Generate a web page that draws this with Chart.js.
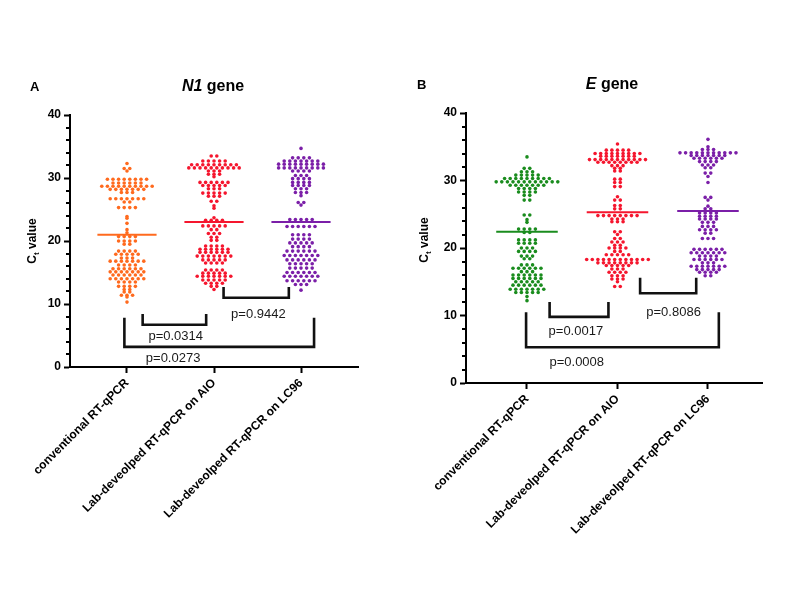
<!DOCTYPE html>
<html><head><meta charset="utf-8">
<script src="https://cdn.jsdelivr.net/npm/chart.js@4.4.0/dist/chart.umd.min.js"></script>
<style>
html,body{margin:0;padding:0;background:#fff;}
#wrap{position:relative;width:800px;height:600px;overflow:hidden;}
canvas{position:absolute;top:0;}
</style></head><body>
<div id="wrap">
<canvas id="cA" width="400" height="600" style="left:0"></canvas>
<canvas id="cB" width="400" height="600" style="left:400px"></canvas>
</div>
<script>
// ---------------- DATA ----------------
const categories = ['conventional RT-qPCR', 'Lab-deveolped RT-qPCR on AIO', 'Lab-deveolped RT-qPCR on LC96'];
const yTickValues = [0, 10, 20, 30, 40];

// Panel A: N1 gene Ct values
const n1Conventional = [32.3,31.5,31.5,31.1,
 29.8,29.8,29.8,29.8,29.8,29.8,29.8,29.8,
 29.2,29.2,29.2,29.2,29.2,29.2,
 28.7,28.7,28.7,28.7,28.7,28.7,28.7,28.7,28.7,28.7,
 28.2,28.2,28.2,28.2,28.2,28.2,28.2,
 27.7,27.7,27.7,
 26.7,26.7,26.7,26.7,26.7,26.7,26.7,
 26.2,26.2,
 25.3,25.3,25.3,25.3,
 23.9,23.6,22.8,21.8,21.3,
 20.7,20.7,20.7,20.7,
 20.0,20.0,20.0,20.0,
 19.5,19.5,
 18.4,18.4,18.4,18.4,
 17.9,17.9,17.9,17.9,17.9,
 17.3,17.3,17.3,
 16.8,16.8,16.8,16.8,16.8,16.8,16.8,
 16.2,16.2,16.2,16.2,
 15.6,15.6,15.6,15.6,15.6,15.6,
 15.1,15.1,15.1,15.1,15.1,15.1,15.1,
 14.6,14.6,14.6,14.6,14.6,14.6,
 14.0,14.0,14.0,14.0,14.0,14.0,14.0,
 13.5,13.5,13.5,13.5,
 12.8,12.8,12.8,12.8,
 12.3,12.3,11.9,11.9,
 11.4,11.4,11.4,11.1,10.3];
const n1AIO = [33.5,33.5,
 32.7,32.7,32.7,32.7,32.7,
 32.1,32.1,32.1,32.1,32.1,32.1,32.1,32.1,32.1,
 31.6,31.6,31.6,31.6,31.6,31.6,31.6,31.6,31.6,31.6,
 31.1,31.1,31.1,
 30.6,30.6,30.6,
 30.2,
 29.3,29.3,29.3,29.3,29.3,29.3,
 28.8,28.8,28.8,28.8,28.8,
 28.3,28.3,28.3,
 27.6,27.6,27.6,27.6,27.6,
 27.1,27.1,27.1,
 26.3,26.3,25.6,25.2,23.7,
 23.3,23.3,23.3,23.3,
 22.4,22.4,22.4,22.4,22.4,
 21.8,21.8,
 21.2,21.2,21.2,
 20.6,20.6,20.1,20.1,
 19.2,19.2,19.2,19.2,
 18.7,18.7,18.7,18.7,18.7,18.7,
 18.2,18.2,18.2,18.2,18.2,18.2,
 17.6,17.6,17.6,17.6,17.6,17.6,17.6,
 17.0,17.0,17.0,17.0,17.0,
 16.5,16.5,16.5,16.5,
 15.4,15.4,15.4,15.4,
 14.9,14.9,14.9,14.9,14.9,
 14.4,14.4,14.4,14.4,14.4,14.4,14.4,
 13.8,13.8,13.8,13.8,13.8,
 13.3,13.3,13.3,13.3,
 12.8,12.8,12.3];
const n1LC96 = [34.7,
 33.2,33.2,33.2,33.2,
 32.7,32.7,32.7,32.7,32.7,32.7,32.7,
 32.2,32.2,32.2,32.2,32.2,32.2,32.2,32.2,32.2,
 31.6,31.6,31.6,31.6,31.6,31.6,31.6,31.6,31.6,
 31.1,31.1,31.1,31.1,
 30.4,30.4,30.4,
 29.9,29.9,29.9,29.9,
 29.3,29.3,29.3,29.3,
 28.8,28.8,28.8,28.8,
 28.3,28.3,28.3,
 27.7,27.7,27.7,
 27.2,26.1,26.1,25.7,
 23.4,23.4,23.4,23.4,23.4,
 22.3,22.3,22.3,22.3,22.3,22.3,
 21.0,21.0,21.0,21.0,
 20.3,20.3,20.3,20.3,
 19.7,19.7,19.7,19.7,19.7,
 19.1,19.1,19.1,19.1,
 18.4,18.4,18.4,18.4,18.4,18.4,
 17.7,17.7,17.7,17.7,17.7,17.7,17.7,
 17.0,17.0,17.0,17.0,17.0,17.0,
 16.4,16.4,16.4,16.4,16.4,
 15.7,15.7,15.7,15.7,15.7,
 15.0,15.0,15.0,15.0,15.0,15.0,
 14.4,14.4,14.4,14.4,14.4,14.4,14.4,
 13.7,13.7,13.7,13.7,13.7,13.7,
 13.1,13.1,13.1,12.2];

// Panel B: E gene Ct values
const eConventional = [33.5,
 31.8,31.8,
 31.3,31.3,31.3,
 30.8,30.8,30.8,30.8,30.8,
 30.3,30.3,30.3,30.3,30.3,30.3,30.3,30.3,30.3,
 29.8,29.8,29.8,29.8,29.8,29.8,29.8,29.8,29.8,29.8,29.8,29.8,
 29.3,29.3,29.3,29.3,29.3,29.3,29.3,
 28.8,28.8,28.8,28.8,
 28.3,28.3,28.3,28.3,
 27.8,27.8,27.1,27.1,
 24.9,24.9,24.2,23.8,
 22.8,22.8,22.8,22.8,
 22.3,22.3,
 21.2,21.2,21.2,21.2,
 20.7,20.7,20.7,20.7,
 20.0,20.0,20.0,
 19.5,19.5,19.5,19.5,
 18.8,18.8,18.8,
 18.4,18.4,
 17.5,17.5,17.5,
 17.0,17.0,17.0,17.0,17.0,17.0,
 16.5,16.5,16.5,
 16.0,16.0,16.0,16.0,16.0,16.0,
 15.5,15.5,15.5,15.5,15.5,15.5,
 15.0,15.0,15.0,15.0,15.0,
 14.5,14.5,14.5,14.5,14.5,14.5,
 13.9,13.9,13.9,13.9,13.9,13.9,13.9,
 13.4,13.4,13.4,13.4,13.4,
 12.8,12.2];
const eAIO = [35.4,
 34.5,34.5,34.5,34.5,34.5,
 34.0,34.0,34.0,34.0,34.0,34.0,34.0,34.0,34.0,
 33.6,33.6,33.6,33.6,33.6,33.6,33.6,
 33.1,33.1,33.1,33.1,33.1,33.1,33.1,33.1,33.1,33.1,33.1,
 32.7,32.7,32.7,32.7,32.7,32.7,32.7,32.7,
 32.2,32.2,32.2,
 31.8,31.8,31.4,31.4,
 30.2,30.2,29.7,29.7,29.1,29.1,
 27.6,27.1,27.1,26.3,26.3,25.8,25.8,
 24.8,24.8,24.8,24.8,24.8,24.8,24.8,24.8,
 24.3,24.3,24.3,
 23.9,23.9,23.9,
 22.4,22.4,22.0,
 21.4,21.4,
 20.9,20.9,20.9,
 20.4,20.4,
 20.0,20.0,20.0,20.0,
 19.5,19.5,
 19.0,19.0,19.0,19.0,19.0,
 18.3,18.3,18.3,18.3,18.3,18.3,18.3,18.3,18.3,18.3,18.3,18.3,
 17.8,17.8,17.8,17.8,17.8,17.8,17.8,17.8,
 17.4,17.4,17.4,17.4,17.4,
 16.9,16.9,16.9,
 16.4,16.4,16.4,16.4,
 15.9,15.9,15.9,
 15.4,15.4,15.4,
 15.0,14.3,14.3];
const eLC96 = [36.1,35.0,
 34.6,34.6,34.6,
 34.1,34.1,34.1,34.1,34.1,34.1,34.1,34.1,34.1,34.1,34.1,
 33.7,33.7,33.7,33.7,33.7,33.7,33.7,
 33.3,33.3,33.3,33.3,33.3,33.3,
 32.8,32.8,32.8,32.8,
 32.3,32.3,32.3,
 31.9,31.9,31.1,31.1,30.6,29.7,
 27.5,27.5,27.1,26.2,
 25.8,25.8,
 25.2,25.2,25.2,25.2,
 24.7,24.7,24.7,24.7,
 24.3,24.3,24.3,24.3,
 23.8,23.8,23.8,
 23.2,23.2,23.2,
 22.7,22.7,22.7,22.7,
 22.2,22.2,
 21.4,21.4,21.4,
 19.8,19.8,19.8,19.8,19.8,19.8,
 19.3,19.3,19.3,19.3,19.3,19.3,19.3,
 18.8,18.8,18.8,18.8,
 18.3,18.3,18.3,18.3,18.3,18.3,
 17.8,17.8,17.8,
 17.3,17.3,17.3,17.3,17.3,17.3,17.3,
 16.8,16.8,16.8,16.8,16.8,
 16.4,16.4,16.4,16.4,
 15.9,15.9];

const n1Means = [21.0, 23.0, 23.0];
const eMeans = [22.4, 25.3, 25.5];

// Significance brackets: [leftX, rightX, legTop, barY] in data units, with p-value labels
const n1Brackets = [[0.18, 0.91, 8.4, 6.7], [1.11, 1.86, 12.7, 11.0], [-0.03, 2.15, 7.8, 3.2]];
const n1PLabels = ['p=0.0314', 'p=0.9442', 'p=0.0273'];
const n1PLabelPos = [[0.56, 4.8], [1.51, 8.4], [0.53, 1.3]];
const eBrackets = [[0.25, 0.90, 12.0, 9.8], [1.25, 1.87, 15.6, 13.3], [-0.01, 2.12, 10.5, 5.3]];
const ePLabels = ['p=0.0017', 'p=0.8086', 'p=0.0008'];
const ePLabelPos = [[0.54, 7.6], [1.62, 10.4], [0.55, 3.0]];

// ---------------- RENDER ----------------
Chart.defaults.font.family = '"Liberation Sans", Arial, Helvetica, sans-serif';
Chart.defaults.color = '#000';

function swarm(chart) {
  const xs = chart.scales.x, ys = chart.scales.y, d = 5.6;
  chart.data.datasets.forEach(ds => {
    if (!ds.swarmValues) return;
    const cpx = xs.getPixelForValue(ds.swarmCat);
    const vals = ds.swarmValues.slice().sort((a, b) => b - a);
    const rows = [];
    vals.forEach(v => {
      const py = ys.getPixelForValue(v);
      const last = rows[rows.length - 1];
      if (last && Math.abs(py - last.py) < 1.6) last.vals.push(v); else rows.push({ py, vals: [v] });
    });
    const pts = [];
    rows.forEach(r => {
      const n = r.vals.length;
      r.vals.forEach((v, i) => { const off = (i - (n - 1) / 2) * d; pts.push({ x: xs.getValueForPixel(cpx + off), y: v }); });
    });
    ds.data = pts;
  });
  chart.update('none');
}

function makePanel(id, p) {
  const datasets = [];
  p.groups.forEach((vals, i) => {
    datasets.push({ swarmValues: vals, swarmCat: i, data: vals.map(v => ({ x: i, y: v })),
      pointRadius: 1.8, pointBackgroundColor: p.colors[i], pointBorderWidth: 0, showLine: false });
  });
  p.means.forEach((m, i) => {
    datasets.push({ data: [{ x: i - 0.34, y: m }, { x: i + 0.34, y: m }], showLine: true,
      borderColor: p.colors[i], borderWidth: 2, pointRadius: 0 });
  });
  p.brackets.forEach(b => {
    datasets.push({ data: [{ x: b[0], y: b[2] }, { x: b[0], y: b[3] }, { x: b[1], y: b[3] }, { x: b[1], y: b[2] }],
      showLine: true, borderColor: '#111', borderWidth: 2.6, pointRadius: 0, tension: 0, borderJoinStyle: 'miter' });
  });

  const deco = {
    id: 'deco',
    afterDraw(chart) {
      const ctx = chart.ctx, xs = chart.scales.x, ys = chart.scales.y, ca = chart.chartArea;
      ctx.save();
      // minor ticks
      ctx.strokeStyle = '#000'; ctx.lineWidth = 2;
      for (let v = 0; v <= 40; v += 2) {
        if (v % 10 === 0) continue;
        const py = Math.round(ys.getPixelForValue(v));
        ctx.beginPath(); ctx.moveTo(ca.left - 4, py); ctx.lineTo(ca.left, py); ctx.stroke();
      }
      // p-value labels
      ctx.fillStyle = '#1a1a1a'; ctx.font = '13px "Liberation Sans", Arial, sans-serif';
      ctx.textAlign = 'center'; ctx.textBaseline = 'middle';
      p.pLabels.forEach((t, i) => ctx.fillText(t, xs.getPixelForValue(p.pPos[i][0]), ys.getPixelForValue(p.pPos[i][1])));
      // panel letter
      ctx.fillStyle = '#000'; ctx.textAlign = 'left'; ctx.textBaseline = 'alphabetic';
      ctx.font = 'bold 13px "Liberation Sans", Arial, sans-serif';
      ctx.fillText(p.letter, p.letterX, p.titleY);
      // title with italic gene name
      const f1 = 'italic bold 16px "Liberation Sans", Arial, sans-serif';
      const f2 = 'bold 16px "Liberation Sans", Arial, sans-serif';
      ctx.font = f1; const w1 = ctx.measureText(p.gene).width;
      ctx.font = f2; const w2 = ctx.measureText(' gene').width;
      let x0 = p.titleCX - (w1 + w2) / 2;
      ctx.font = f1; ctx.fillText(p.gene, x0, p.titleY);
      ctx.font = f2; ctx.fillText(' gene', x0 + w1, p.titleY);
      // y axis title: C_t value
      ctx.translate(p.yTitleX, p.yTitleY); ctx.rotate(-Math.PI / 2);
      const fa = 'bold 12px "Liberation Sans", Arial, sans-serif', fb = 'bold 8px "Liberation Sans", Arial, sans-serif';
      ctx.font = fa; const wc = ctx.measureText('C').width, wv = ctx.measureText(' value').width;
      ctx.font = fb; const wt = ctx.measureText('t').width;
      let sx = -(wc + wt + wv) / 2;
      ctx.textBaseline = 'middle';
      ctx.font = fa; ctx.fillText('C', sx, 0);
      ctx.font = fb; ctx.fillText('t', sx + wc, 4);
      ctx.font = fa; ctx.fillText(' value', sx + wc + wt, 0);
      ctx.restore();
    }
  };

  const chart = new Chart(document.getElementById(id), {
    type: 'scatter',
    data: { datasets },
    options: {
      responsive: false, animation: false, events: [],
      layout: { padding: { left: 0, top: p.top, right: p.right, bottom: 0 } },
      plugins: { legend: { display: false }, tooltip: { enabled: false }, title: { display: false } },
      scales: {
        x: {
          type: 'linear', min: p.xMin, max: p.xMax,
          afterBuildTicks: s => { s.ticks = categories.map((c, i) => ({ value: i })); },
          afterFit: s => { s.height = p.xAxisH; s.paddingLeft = 0; s.paddingRight = 0; },
          ticks: { callback: v => categories[v], minRotation: 45, maxRotation: 45, autoSkip: false,
            font: { size: 12, weight: 'bold' }, color: '#000', padding: 3 },
          grid: { drawOnChartArea: false, drawTicks: true, tickLength: 6, tickWidth: 2, tickColor: '#000' },
          border: { display: true, color: '#000', width: 2 }
        },
        y: {
          min: 0, max: 40,
          afterBuildTicks: s => { s.ticks = yTickValues.map(v => ({ value: v })); },
          afterFit: s => { s.width = p.yAxisW; },
          ticks: { font: { size: 12, weight: 'bold' }, color: '#000', padding: 3 },
          grid: { drawOnChartArea: false, drawTicks: true, tickLength: 6, tickWidth: 2, tickColor: '#000' },
          border: { display: true, color: '#000', width: 2 }
        }
      }
    },
    plugins: [deco]
  });
  swarm(chart);
  return chart;
}

makePanel('cA', {
  groups: [n1Conventional, n1AIO, n1LC96], means: n1Means,
  colors: ['#FF6A1E', '#F5162E', '#7B1FA8'],
  brackets: n1Brackets, pLabels: n1PLabels, pPos: n1PLabelPos,
  letter: 'A', gene: 'N1', letterX: 30, titleCX: 213, titleY: 91,
  yTitleX: 33, yTitleY: 241,
  top: 115, right: 42, yAxisW: 70, xAxisH: 233, xMin: -0.655, xMax: 2.655
});
makePanel('cB', {
  groups: [eConventional, eAIO, eLC96], means: eMeans,
  colors: ['#1A8C1E', '#F5162E', '#7B1FA8'],
  brackets: eBrackets, pLabels: ePLabels, pPos: ePLabelPos,
  letter: 'B', gene: 'E', letterX: 17, titleCX: 212, titleY: 89,
  yTitleX: 25, yTitleY: 240,
  top: 113, right: 38, yAxisW: 66, xAxisH: 217, xMin: -0.674, xMax: 2.597
});
</script>
</body></html>
